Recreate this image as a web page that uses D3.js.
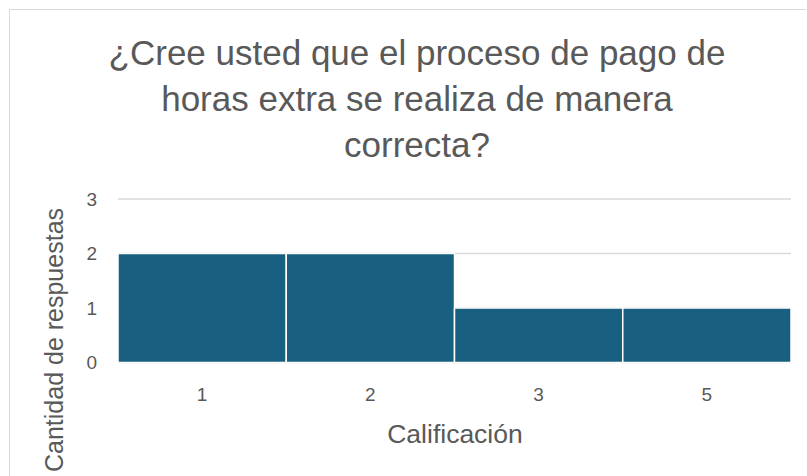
<!DOCTYPE html>
<html>
<head>
<meta charset="utf-8">
<script src="https://cdn.jsdelivr.net/npm/d3@7"></script>
<style>
    body { margin: 0; background: white; }
    text { font-family: 'Liberation Sans', Arial, sans-serif; fill: #595959; }
</style>
</head>
<body>
<div id="chart"></div>
<script>
'use strict';

var categories = ['1', '2', '3', '5']
var counts = [2, 2, 1, 1]
var yTicks = [0, 1, 2, 3]
var titleLines = ['¿Cree usted que el proceso de pago de', 'horas extra se realiza de manera', 'correcta?']
var xTitle = 'Calificación'
var yTitle = 'Cantidad de respuestas'

var width = 807,
    height = 476
var plot = { left: 118, right: 791, top: 199, bottom: 362.5 }

var svg = d3.select('#chart').append('svg')
    .attr('width', width)
    .attr('height', height)

// chart frame (bottom and right are cut off in the picture)
svg.append('path')
    .attr('d', 'M9.5,' + height + 'V9.5H806')
    .style('fill', 'none')
    .style('stroke', '#d9d9d9')
    .style('stroke-width', 1)

var x = d3.scaleBand().domain(categories).range([plot.left, plot.right]).padding(0)
var y = d3.scaleLinear().domain([0, 3]).range([plot.bottom, plot.top])

// gridlines
svg.append('g').selectAll('line')
    .data(yTicks)
    .enter().append('line')
    .attr('x1', plot.left)
    .attr('x2', plot.right)
    .attr('y1', function(d) { return y(d) })
    .attr('y2', function(d) { return y(d) })
    .style('stroke', '#d9d9d9')
    .style('stroke-width', 1.5)

// bars
svg.append('g').selectAll('rect')
    .data(categories)
    .enter().append('rect')
    .attr('x', function(d) { return x(d) })
    .attr('y', function(d, i) { return y(counts[i]) })
    .attr('width', x.bandwidth())
    .attr('height', function(d, i) { return y(0) - y(counts[i]) })
    .style('fill', '#185f80')
    .style('stroke', 'white')
    .style('stroke-width', 1.5)

// y axis labels
var yAxis = svg.append('g')
    .attr('transform', 'translate(' + (plot.left - 21) + ',0)')
    .call(d3.axisLeft(y).tickValues(yTicks).tickFormat(d3.format('d')).tickSize(0).tickPadding(0))
yAxis.select('.domain').remove()
yAxis.selectAll('text')
    .style('font-size', '19px')
    .style('fill', '#595959')
    .style('font-family', "'Liberation Sans', Arial, sans-serif")

// x axis labels
var xAxis = svg.append('g')
    .attr('transform', 'translate(0,' + plot.bottom + ')')
    .call(d3.axisBottom(x).tickSize(0).tickPadding(25))
xAxis.select('.domain').remove()
xAxis.selectAll('text')
    .style('font-size', '19px')
    .style('fill', '#595959')
    .style('font-family', "'Liberation Sans', Arial, sans-serif")

// axis titles
svg.append('text')
    .attr('x', 455)
    .attr('y', 443)
    .attr('text-anchor', 'middle')
    .style('font-size', '26.5px')
    .text(xTitle)

svg.append('text')
    .attr('transform', 'translate(63,340) rotate(-90)')
    .attr('text-anchor', 'middle')
    .style('font-size', '25px')
    .text(yTitle)

// title
svg.append('g').selectAll('text')
    .data(titleLines)
    .enter().append('text')
    .attr('x', 417)
    .attr('y', function(d, i) { return 65 + i * 46 })
    .attr('text-anchor', 'middle')
    .style('font-size', '35px')
    .text(function(d) { return d })
</script>
</body>
</html>
